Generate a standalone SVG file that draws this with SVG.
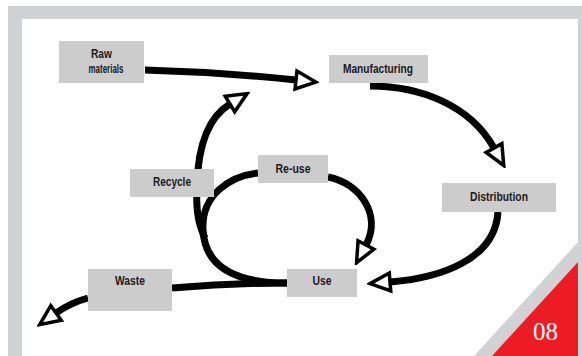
<svg xmlns="http://www.w3.org/2000/svg" width="582" height="356" viewBox="0 0 582 356">
  <style>
    .frame { fill: #d1d2d4; }
    .box { fill: #cccccc; }
    .label { font-family: "Liberation Sans Narrow", "Liberation Sans", Arial, sans-serif; font-weight: bold; font-size: 12px; fill: #1a1a1a; text-anchor: middle; }
    .flow { fill: none; stroke: #000; stroke-width: 7; stroke-linecap: butt; }
    .flow.arrow { marker-end: url(#head); }
    .page { font-family: "Liberation Serif", "DejaVu Serif", serif; font-size: 25px; fill: #fff; font-variant-numeric: oldstyle-nums; }
  </style>
  <defs>
    <!-- hollow triangular arrowhead, base sits on the end of the stroke -->
    <marker id="head" markerUnits="userSpaceOnUse" viewBox="-3 -13 26 26" markerWidth="26" markerHeight="26" refX="0" refY="0" orient="auto">
      <path d="M0,-9 L20,0 L0,9 Z" fill="#fff" stroke="#000" stroke-width="3.5" stroke-linejoin="miter"/>
    </marker>
  </defs>

  <!-- page frame -->
  <rect x="0" y="0" width="582" height="356" fill="#fff"/>
  <rect class="frame" x="8" y="6" width="574" height="350"/>
  <polygon points="22,19 578,19 578,242 474,356 22,356" fill="#fff"/>
  <polygon points="578,262 578,356 492,356" fill="#ed1c24"/>
  <text class="page" x="533" y="340">08</text>

  <!-- connectors -->
  <g id="connectors">
    <path class="flow arrow" d="M145,70 Q220,72 296,80"/>
    <path class="flow arrow" d="M370,86 C420,86 470,105 494,148"/>
    <path class="flow arrow" d="M498,212 C495,260 440,278 390,282"/>
    <path class="flow arrow" d="M328,177 C360,183 382,215 366,245"/>
    <path class="flow" d="M287,283 C240,283 205,270 203,230 C201,195 230,176 258,173"/>
    <path class="flow arrow" d="M205,238 C197,222 196,205 197,185 C198,150 207,118 230,104"/>
    <path class="flow" d="M172,288 Q230,283 287,283"/>
    <path class="flow arrow" d="M88,298 Q70,303 56,313"/>
  </g>

  <!-- nodes -->
  <g id="raw-materials">
    <rect class="box" x="59" y="41" width="85" height="42"/>
    <text class="label" x="101.5" y="58" textLength="21" lengthAdjust="spacingAndGlyphs">Raw</text>
    <text class="label" x="106" y="73" textLength="35" lengthAdjust="spacingAndGlyphs">materials</text>
  </g>
  <g id="manufacturing">
    <rect class="box" x="329" y="55" width="99" height="28"/>
    <text class="label" x="378" y="73" textLength="70" lengthAdjust="spacingAndGlyphs">Manufacturing</text>
  </g>
  <g id="distribution">
    <rect class="box" x="442" y="183" width="114" height="29"/>
    <text class="label" x="499" y="201" textLength="58" lengthAdjust="spacingAndGlyphs">Distribution</text>
  </g>
  <g id="re-use">
    <rect class="box" x="258" y="155" width="70" height="28"/>
    <text class="label" x="293" y="173" textLength="35" lengthAdjust="spacingAndGlyphs">Re-use</text>
  </g>
  <g id="recycle">
    <rect class="box" x="130" y="169" width="84" height="28"/>
    <text class="label" x="172" y="186" textLength="38" lengthAdjust="spacingAndGlyphs">Recycle</text>
  </g>
  <g id="use">
    <rect class="box" x="287" y="269" width="70" height="28"/>
    <text class="label" x="322" y="285" textLength="19" lengthAdjust="spacingAndGlyphs">Use</text>
  </g>
  <g id="waste">
    <rect class="box" x="88" y="269" width="84" height="42"/>
    <text class="label" x="130" y="285" textLength="30" lengthAdjust="spacingAndGlyphs">Waste</text>
  </g>
</svg>
